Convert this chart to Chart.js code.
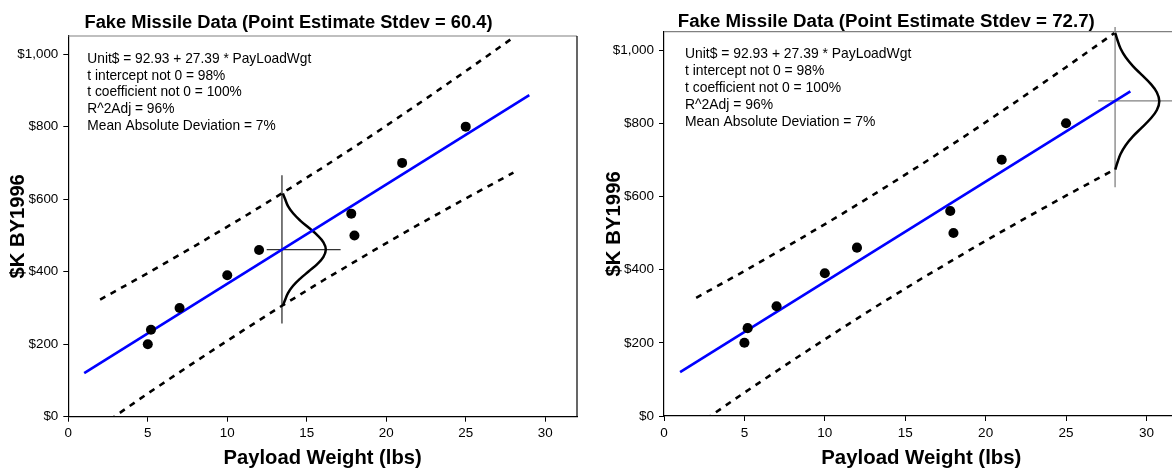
<!DOCTYPE html>
<html>
<head>
<meta charset="utf-8">
<script src="https://cdn.jsdelivr.net/npm/chart.js@4.4.1/dist/chart.umd.min.js"></script>
<style>
  html, body { margin: 0; padding: 0; background: #fff; overflow: hidden; width: 1172px; height: 472px; }
  #left { position: absolute; left: 0; top: 0; }
  #right { position: absolute; left: 594px; top: 0; }
</style>
</head>
<body>
<canvas id="left" width="590" height="472"></canvas>
<canvas id="right" width="594" height="472"></canvas>
<script>
// observed missile data
const payloadWgt = [5, 5.2, 7, 10, 12, 17.8, 18, 21, 25];
const unitCost = [200, 240, 300, 390, 460, 560, 500, 700, 800];

// regression line end points
const fitX = [1, 29];
const fitY = [120, 887];

// prediction band (dashed lines)
const bandX = [2, 5, 8, 11, 13.44, 16, 19, 22, 25, 28];
const upperBand = [323, 396, 472, 550, 616, 687, 773, 862, 953, 1046];
const lowerBand = [-27, 64, 152, 238, 306, 375, 453, 529, 602, 673];

// bell curve at the mean (left chart)
const curveLeftX = [13.50, 13.63, 13.82, 14.14, 14.59, 15.13, 15.66, 16.05, 16.20, 16.05, 15.66, 15.13, 14.59, 14.14, 13.82, 13.63, 13.50];
const curveLeftY = [306, 321, 341, 361, 381, 401, 421, 441, 461, 481, 501, 521, 541, 561, 581, 601, 616];
const crossLeftVX = [13.44, 13.44];
const crossLeftVY = [257, 666];
const crossLeftHX = [12.48, 17.13];
const crossLeftHY = [461, 461];

// bell curve at payload 28 (right chart)
const curveRightX = [28.06, 28.19, 28.39, 28.71, 29.16, 29.71, 30.25, 30.65, 30.80, 30.65, 30.25, 29.71, 29.16, 28.71, 28.39, 28.19, 28.06];
const curveRightY = [673, 692, 716, 740, 764, 788, 812, 836, 860, 884, 908, 932, 956, 980, 1004, 1028, 1047];
const crossRightVX = [28.05, 28.05];
const crossRightVY = [625, 1063];
const crossRightHX = [27.0, 33];
const crossRightHY = [861, 861];

const notes = [
  'Unit$ = 92.93 + 27.39 * PayLoadWgt',
  't intercept not 0 = 98%',
  't coefficient not 0 = 100%',
  'R^2Adj = 96%',
  'Mean Absolute Deviation = 7%'
];
const titleLeft = 'Fake Missile Data (Point Estimate Stdev = 60.4)';
const titleRight = 'Fake Missile Data (Point Estimate Stdev = 72.7)';
const xTitle = 'Payload Weight (lbs)';
const yTitle = '$K BY1996';

const FONT = "'Liberation Sans', Arial, sans-serif";

function pts(xs, ys) {
  return xs.map((x, i) => ({x: x, y: ys[i]}));
}

function line(data, color, width, extra) {
  return Object.assign({
    data: data,
    showLine: true,
    pointRadius: 0,
    borderColor: color,
    backgroundColor: color,
    borderWidth: width,
    fill: false
  }, extra || {});
}

const framePlugin = {
  id: 'frame',
  beforeDatasetsDraw(chart) {
    const a = chart.chartArea, ctx = chart.ctx;
    ctx.save();
    ctx.lineWidth = 1.2;
    ctx.strokeStyle = '#808080';
    ctx.beginPath();
    ctx.moveTo(a.left, a.top);
    ctx.lineTo(a.right, a.top);
    ctx.stroke();
    ctx.strokeStyle = '#000';
    ctx.beginPath();
    ctx.moveTo(a.right, a.top);
    ctx.lineTo(a.right, a.bottom);
    ctx.stroke();
    ctx.restore();
  }
};

const notesPlugin = {
  id: 'notes',
  afterDraw(chart) {
    const o = chart.options.plugins.notes;
    const a = chart.chartArea, ctx = chart.ctx;
    ctx.save();
    ctx.fillStyle = '#000';
    ctx.font = o.size + 'px ' + FONT;
    ctx.textBaseline = 'middle';
    notes.forEach((t, i) => {
      ctx.fillText(t, a.left + o.dx, a.top + o.dy + i * o.step);
    });
    ctx.restore();
  }
};

function makeChart(id, cfg) {
  const ctx = document.getElementById(id).getContext('2d');
  return new Chart(ctx, {
    type: 'scatter',
    data: {
      datasets: [
        {data: pts(payloadWgt, unitCost), pointRadius: 5 * cfg.s, pointHoverRadius: 5 * cfg.s,
         backgroundColor: '#000', borderColor: '#000', borderWidth: 0, order: 0},
        line(pts(fitX, fitY), '#0000ff', 2.6, {order: 1}),
        line(pts(cfg.curveX, cfg.curveY), '#000', 2.5, {tension: 0.4, order: 2}),
        line(pts(bandX, upperBand), '#000', 2.6, {borderDash: [6, 6], order: 3}),
        line(pts(bandX, lowerBand), '#000', 2.6, {borderDash: [6, 6], order: 3}),
        line(pts(cfg.vX, cfg.vY), cfg.crossColor, 1.3, {order: 4, clip: false}),
        line(pts(cfg.hX, cfg.hY), cfg.crossColor, 1.3, {order: 4, clip: false})
      ]
    },
    options: {
      responsive: false,
      animation: false,
      devicePixelRatio: 1,
      layout: {padding: {left: 0, right: cfg.rightPad, top: 0, bottom: 0}},
      plugins: {
        legend: {display: false},
        tooltip: {enabled: false},
        title: {
          display: true,
          text: cfg.title,
          color: '#000',
          font: {family: FONT, size: cfg.titleSize, weight: 'bold', lineHeight: 1},
          padding: {top: cfg.titleTop, bottom: cfg.titleBottom}
        },
        notes: {size: cfg.noteSize, dx: cfg.noteDx, dy: cfg.noteDy, step: cfg.noteStep}
      },
      scales: {
        x: {
          type: 'linear',
          min: 0,
          max: 32,
          afterFit: (scale) => { scale.height = cfg.xHeight; },
          ticks: {stepSize: 5, includeBounds: false, color: '#000', padding: 4,
                  font: {family: FONT, size: cfg.tickSize}},
          grid: {drawOnChartArea: false, drawTicks: true, tickLength: 5, color: '#000'},
          border: {display: true, color: '#000', width: 1.2},
          title: {display: true, text: xTitle, color: '#000', padding: {top: 0, bottom: 1},
                  font: {family: FONT, size: cfg.axisTitleSize, weight: 'bold', lineHeight: 1.2}}
        },
        y: {
          type: 'linear',
          min: 0,
          max: 1050,
          afterFit: (scale) => { scale.width = cfg.yWidth; },
          ticks: {stepSize: 200, includeBounds: false, color: '#000', padding: 5,
                  font: {family: FONT, size: cfg.tickSize},
                  callback: (v) => '$' + Number(v).toLocaleString('en-US')},
          grid: {drawOnChartArea: false, drawTicks: true, tickLength: 5, color: '#000'},
          border: {display: true, color: '#000', width: 1.2},
          title: {display: true, text: yTitle, color: '#000', padding: {top: cfg.yTitlePad, bottom: 0},
                  font: {family: FONT, size: cfg.axisTitleSize, weight: 'bold', lineHeight: 1.2}}
        }
      }
    },
    plugins: [framePlugin, notesPlugin]
  });
}

makeChart('left', {
  s: 1, title: titleLeft, titleSize: 18.3, titleTop: 13.8, titleBottom: 3.9,
  rightPad: 13, yWidth: 68.3, xHeight: 55.3, tickSize: 13.4, axisTitleSize: 20.2, yTitlePad: 6,
  noteSize: 13.75, noteDx: 19, noteDy: 23.3, noteStep: 16.7,
  curveX: curveLeftX, curveY: curveLeftY,
  vX: crossLeftVX, vY: crossLeftVY, hX: crossLeftHX, hY: crossLeftHY, crossColor: '#333'
});

makeChart('right', {
  s: 1.01, title: titleRight, titleSize: 18.7, titleTop: 12.6, titleBottom: 0.4,
  rightPad: 9.4, yWidth: 70, xHeight: 56, tickSize: 13.5, axisTitleSize: 20.4, yTitlePad: 8,
  noteSize: 13.9, noteDx: 21, noteDy: 22, noteStep: 17,
  curveX: curveRightX, curveY: curveRightY,
  vX: crossRightVX, vY: crossRightVY, hX: crossRightHX, hY: crossRightHY, crossColor: '#808080'
});
</script>
</body>
</html>
